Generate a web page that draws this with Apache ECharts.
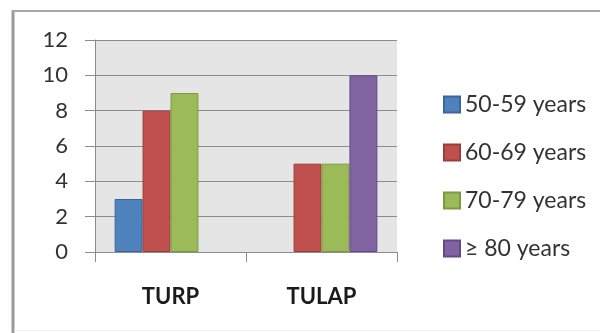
<!DOCTYPE html>
<html>
<head>
<meta charset="utf-8">
<script src="https://cdn.jsdelivr.net/npm/echarts@6/dist/echarts.min.js"></script>
<style>
  html, body { margin: 0; padding: 0; background: #ffffff; }
  #chart { width: 600px; height: 333px; }
</style>
</head>
<body>
<div id="chart"></div>
<script>
// Procedures on the x axis
const categories = ['TURP', 'TULAP'];

// Patient counts per age group
const seriesNames = ['50-59 years', '60-69 years', '70-79 years', '\u2265 80 years'];
const age50to59 = [3, 0];
const age60to69 = [8, 5];
const age70to79 = [9, 5];
const age80plus = [0, 10];

// Y axis ticks
const yMin = 0;
const yMax = 12;
const yStep = 2;

const fills = ['#4f81bd', '#c0504d', '#9bbb59', '#8064a2'];
const edges = ['#3b6699', '#9c3d3a', '#7b9a42', '#63498a'];
const values = [age50to59, age60to69, age70to79, age80plus];

const chart = echarts.init(document.getElementById('chart'), null, { renderer: 'canvas' });

const font = 'Lato, "Open Sans", "DejaVu Sans", sans-serif';

chart.setOption({
  animation: false,
  backgroundColor: '#ffffff',
  textStyle: { fontFamily: font },
  grid: {
    left: 95, top: 40, width: 302, height: 212,
    show: true, backgroundColor: '#e5e5e5', borderWidth: 0
  },
  legend: {
    orient: 'vertical',
    left: 438, top: 88,
    itemWidth: 16, itemHeight: 16,
    itemGap: 25, itemTextGap: 8,
    icon: 'rect',
    textStyle: { fontSize: 23, color: '#333333', fontFamily: font },
    data: seriesNames
  },
  xAxis: {
    type: 'category',
    data: categories,
    axisLine: { show: true, lineStyle: { color: '#8c8c8c', width: 1 } },
    axisTick: { show: true, length: 10, lineStyle: { color: '#8c8c8c' } },
    axisLabel: { fontSize: 22, fontWeight: 'bold', color: '#1a1a1a', margin: 34, fontFamily: font },
    splitLine: { show: false }
  },
  yAxis: {
    type: 'value',
    min: yMin, max: yMax, interval: yStep,
    axisLine: { show: true, lineStyle: { color: '#8c8c8c', width: 1 } },
    axisTick: { show: true, length: 10, lineStyle: { color: '#8c8c8c' } },
    axisLabel: { fontSize: 22, color: '#333333', margin: 27, fontFamily: font },
    splitLine: { show: true, lineStyle: { color: '#8c8c8c', width: 1 } }
  },
  series: seriesNames.map((name, i) => ({
    name: name,
    type: 'bar',
    // zero counts leave an empty slot, with no outline drawn on the baseline
    data: values[i].map(v => (v === 0 ? { value: v, itemStyle: { borderWidth: 0 } } : v)),
    barGap: '0%',
    barCategoryGap: '26%',
    itemStyle: { color: fills[i], borderColor: edges[i], borderWidth: 1 }
  })),
  graphic: [
    { type: 'line', silent: true, shape: { x1: 13, y1: 10, x2: 13, y2: 333 }, style: { stroke: '#9a9a9a', lineWidth: 3 } },
    { type: 'line', silent: true, shape: { x1: 12, y1: 11, x2: 600, y2: 11 }, style: { stroke: '#a8a8a8', lineWidth: 2 } },
    { type: 'line', silent: true, shape: { x1: 14, y1: 330.5, x2: 600, y2: 330.5 }, style: { stroke: '#eeeeee', lineWidth: 1 } }
  ]
});
</script>
</body>
</html>
